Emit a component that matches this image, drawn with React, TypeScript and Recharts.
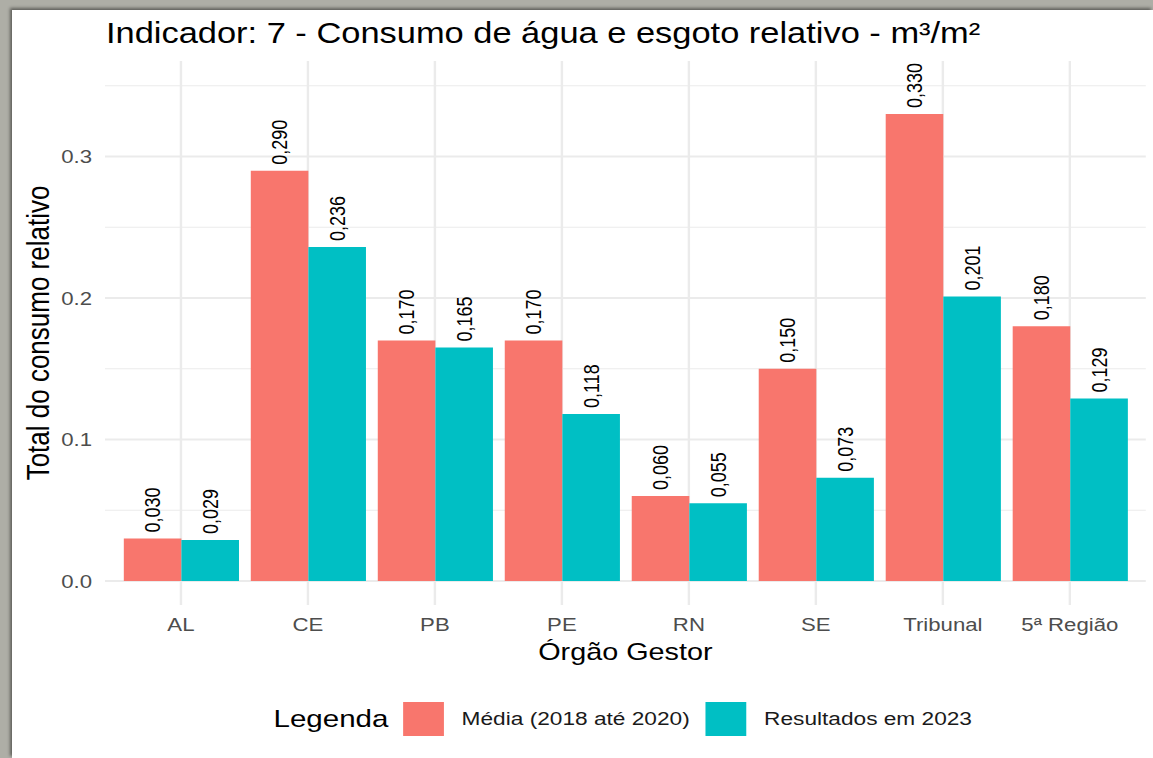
import {
  BarChart,
  Bar,
  XAxis,
  YAxis,
  CartesianGrid,
  Legend,
  LabelList,
  Label,
} from 'recharts'

const categories = ['AL', 'CE', 'PB', 'PE', 'RN', 'SE', 'Tribunal', '5ª Região']
const media = [0.03, 0.29, 0.17, 0.17, 0.06, 0.15, 0.33, 0.18]
const resultados = [0.029, 0.236, 0.165, 0.118, 0.055, 0.073, 0.201, 0.129]
const seriesNames = ['Média (2018 até 2020)', 'Resultados em 2023']
const yTicks = [0, 0.1, 0.2, 0.3]
const yMinor = [0.05, 0.15, 0.25, 0.35]

const COLORS = ['#F8766D', '#00BFC4']
const FONT = '"Liberation Sans", Arial, sans-serif'

// the source picture is stretched sideways, so the chart is drawn narrower and scaled
const PAGE_W = 1153
const PAGE_H = 758
const CHART_W = 961
const SX = PAGE_W / CHART_W
const X_PAD = 10.4

const data = categories.map((c, i) => ({
  name: c,
  media: media[i],
  resultados: resultados[i],
}))

const fmt = (v: number) => v.toFixed(3).replace('.', ',')

// vertical grid only through the category centres (no lines at the panel edges)
function categoryGrid(props: any): number[] {
  const scale = props?.xAxis?.scale
  try {
    if (typeof scale === 'function') {
      const bw = typeof scale.bandwidth === 'function' ? scale.bandwidth() : 0
      const out = categories.map((c) => Number(scale(c)) + bw / 2)
      if (out.every((v) => Number.isFinite(v))) return out
    }
    if (scale && typeof scale.map === 'function') {
      const out = categories.map((c) => Number(scale.map(c, { position: 'middle' })))
      if (out.every((v) => Number.isFinite(v))) return out
    }
  } catch (e) {
    // fall through to the band layout below
  }
  const off = props?.offset || { left: 87.5, width: CHART_W - 93.5 }
  const band = (off.width - 2 * X_PAD) / categories.length
  return categories.map((_, i) => off.left + X_PAD + band * (i + 0.5))
}

function BarLabel(props: any) {
  const { x, y, width, value } = props
  const cx = Number(x) + Number(width) / 2
  const ty = Number(y) - 6
  return (
    <text
      x={cx}
      y={ty}
      transform={`rotate(-90 ${cx} ${ty})`}
      textAnchor="start"
      dominantBaseline="central"
      fontSize={18}
      fill="#000"
      fontFamily={FONT}
    >
      {fmt(Number(value))}
    </text>
  )
}

function YTitle(props: any) {
  const vb = props.viewBox || {}
  const cx = 31.5
  const cy = vb.y + vb.height / 2
  return (
    <text
      x={cx}
      y={cy}
      transform={`rotate(-90 ${cx} ${cy})`}
      textAnchor="middle"
      dominantBaseline="central"
      fontSize={26}
      fill="#000"
      fontFamily={FONT}
    >
      Total do consumo relativo
    </text>
  )
}

function LegendBox(props: any) {
  const payload = props.payload || []
  return (
    <div
      style={{
        display: 'flex',
        alignItems: 'center',
        height: 34,
        paddingLeft: 228,
        fontFamily: FONT,
        color: '#000',
      }}
    >
      <span style={{ fontSize: 24.6, marginRight: 12 }}>Legenda</span>
      {payload.map((p: any, i: number) => (
        <div key={i} style={{ display: 'flex', alignItems: 'center', marginRight: 13 }}>
          <span style={{ width: 34, height: 34, background: p.color, display: 'inline-block' }} />
          <span style={{ fontSize: 18.9, marginLeft: 15, color: '#1a1a1a' }}>{p.value}</span>
        </div>
      ))}
    </div>
  )
}

export default function App() {
  return (
    <div
      style={{
        position: 'absolute',
        left: 0,
        top: 0,
        width: PAGE_W,
        height: PAGE_H,
        overflow: 'hidden',
        background: '#aeaea6',
      }}
    >
      <div
        style={{
          position: 'absolute',
          left: 12,
          top: 10,
          right: 0,
          bottom: 0,
          background: '#fff',
          boxShadow: '-2px -2px 3px rgba(0,0,0,0.45)',
        }}
      />
      <div
        style={{
          position: 'absolute',
          left: 0,
          top: 0,
          width: CHART_W,
          height: PAGE_H,
          transform: `scaleX(${SX})`,
          transformOrigin: '0 0',
        }}
      >
        <div
          style={{
            position: 'absolute',
            left: 88.3,
            top: 19.2,
            fontSize: 28.7,
            lineHeight: 1,
            fontFamily: FONT,
            color: '#000',
            whiteSpace: 'nowrap',
          }}
        >
          Indicador: 7 - Consumo de água e esgoto relativo - m³/m²
        </div>
        <BarChart
          width={CHART_W}
          height={PAGE_H}
          data={data}
          margin={{ top: 61, right: 6, bottom: 83, left: 0 }}
          barCategoryGap="5%"
          barGap={0}
          style={{ fontFamily: FONT }}
        >
          <CartesianGrid
            stroke="#ebebeb"
            strokeWidth={1}
            vertical={false}
            horizontalValues={yMinor}
          />
          <CartesianGrid
            stroke="#ebebeb"
            strokeWidth={2}
            horizontalValues={yTicks}
            verticalCoordinatesGenerator={categoryGrid}
          />
          <XAxis
            dataKey="name"
            padding={{ left: X_PAD, right: X_PAD }}
            axisLine={false}
            tickLine={false}
            tickSize={0}
            tickMargin={13}
            height={70}
            tick={{ fill: '#4d4d4d', fontSize: 18.5 }}
            interval={0}
          >
            <Label
              value="Órgão Gestor"
              position="insideBottom"
              offset={15}
              fontSize={24}
              fill="#000"
            />
          </XAxis>
          <YAxis
            type="number"
            domain={[-0.017, 0.3675]}
            allowDataOverflow
            ticks={yTicks}
            tickFormatter={(v: number) => v.toFixed(1)}
            axisLine={false}
            tickLine={false}
            tickSize={0}
            tickMargin={10.8}
            width={87.5}
            tick={{ fill: '#4d4d4d', fontSize: 18.5 }}
            label={(p: any) => <YTitle {...p} />}
          />
          <Legend
            verticalAlign="middle"
            align="center"
            layout="horizontal"
            wrapperStyle={{ top: 701.7, left: 0, width: CHART_W, height: 34 }}
            content={(p: any) => <LegendBox {...p} />}
          />
          <Bar dataKey="media" name={seriesNames[0]} fill={COLORS[0]} isAnimationActive={false}>
            <LabelList dataKey="media" content={(p: any) => <BarLabel {...p} />} />
          </Bar>
          <Bar
            dataKey="resultados"
            name={seriesNames[1]}
            fill={COLORS[1]}
            isAnimationActive={false}
          >
            <LabelList dataKey="resultados" content={(p: any) => <BarLabel {...p} />} />
          </Bar>
        </BarChart>
      </div>
    </div>
  )
}
